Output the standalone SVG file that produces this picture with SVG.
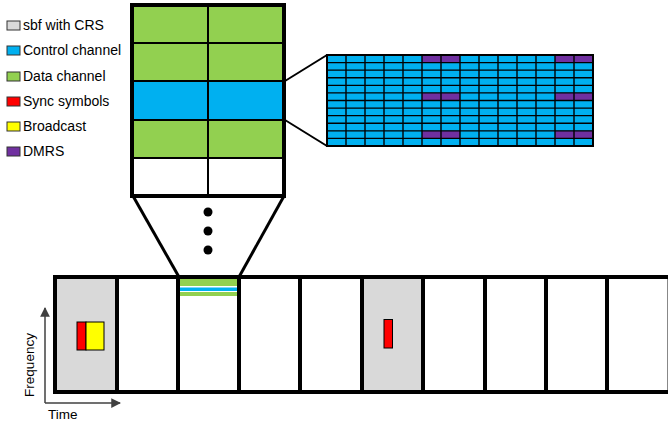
<svg xmlns="http://www.w3.org/2000/svg" width="669" height="427" viewBox="0 0 669 427">
<style>
.lbl{font-family:"Liberation Sans",Arial,sans-serif;font-size:14px;fill:#000}
.ax{font-family:"Liberation Sans",Arial,sans-serif;font-size:13.5px;fill:#000}
.sw{stroke:#333;stroke-width:1}
.g{fill:#92D050}.b{fill:#00B0F0}.r{fill:#FF0000}.y{fill:#FFFF00}.p{fill:#7030A0}.gr{fill:#D9D9D9}
.thin{stroke:#000;stroke-width:2;fill:none}
.thick{stroke:#000;stroke-width:4;fill:none}
.grid{stroke:#000;stroke-width:1.4;fill:none}
.conn{stroke:#000;stroke-width:2;fill:none}
</style>
<defs>
<marker id="ah" viewBox="0 0 10 10" refX="9" refY="5" markerWidth="6.5" markerHeight="6.5" orient="auto" markerUnits="strokeWidth">
<path d="M0,0 L10,5 L0,10 z" fill="#404040"/>
</marker>
</defs>
<rect width="669" height="427" fill="#fff"/>

<g id="legend">
<rect class="sw gr" x="7" y="21" width="13" height="9"/><text class="lbl" x="23" y="30">sbf with CRS</text>
<rect class="sw b" x="7" y="46" width="13" height="9"/><text class="lbl" x="23" y="55">Control channel</text>
<rect class="sw g" x="7" y="72" width="13" height="9"/><text class="lbl" x="23" y="81">Data channel</text>
<rect class="sw r" x="7" y="97" width="13" height="9"/><text class="lbl" x="23" y="106">Sync symbols</text>
<rect class="sw y" x="7" y="122" width="13" height="9"/><text class="lbl" x="23" y="131">Broadcast</text>
<rect class="sw p" x="7" y="147" width="13" height="9"/><text class="lbl" x="23" y="156">DMRS</text>
</g>

<g id="subframe-detail">
<rect class="g" x="132" y="5" width="152" height="38"/>
<rect class="g" x="132" y="43" width="152" height="38"/>
<rect class="b" x="132" y="81" width="152" height="39"/>
<rect class="g" x="132" y="120" width="152" height="38"/>
<rect fill="#fff" x="132" y="158" width="152" height="38"/>
<line class="thin" x1="132" y1="43" x2="284" y2="43"/>
<line class="thin" x1="132" y1="81" x2="284" y2="81"/>
<line class="thin" x1="132" y1="120" x2="284" y2="120"/>
<line class="thin" x1="132" y1="158" x2="284" y2="158"/>
<line class="thin" x1="208" y1="5" x2="208" y2="196"/>
<rect class="thick" x="132" y="5" width="152" height="191"/>
</g>

<g id="dots">
<circle cx="208" cy="212" r="4.5" fill="#000"/>
<circle cx="208" cy="231" r="4.5" fill="#000"/>
<circle cx="208" cy="250" r="4.5" fill="#000"/>
</g>

<g id="rb-grid">
<rect class="b" x="327" y="55" width="266" height="91"/>
<rect class="p" x="422" y="55" width="38" height="7.58"/>
<rect class="p" x="422" y="92.9" width="38" height="7.58"/>
<rect class="p" x="422" y="130.8" width="38" height="7.58"/>
<rect class="p" x="555" y="55" width="38" height="7.58"/>
<rect class="p" x="555" y="92.9" width="38" height="7.58"/>
<rect class="p" x="555" y="130.8" width="38" height="7.58"/>
<path class="grid" d="M346,55V146M365,55V146M384,55V146M403,55V146M422,55V146M441,55V146M460,55V146M479,55V146M498,55V146M517,55V146M536,55V146M555,55V146M574,55V146
M327,62.58H593M327,70.17H593M327,77.75H593M327,85.33H593M327,92.92H593M327,100.5H593M327,108.08H593M327,115.67H593M327,123.25H593M327,130.83H593M327,138.42H593"/>
<rect x="327" y="55" width="266" height="91" fill="none" stroke="#000" stroke-width="2"/>
</g>

<g id="time-strip">
<rect class="gr" x="55" y="277" width="62" height="115"/>
<rect class="gr" x="362" y="277" width="61" height="115"/>
<rect class="g" x="178" y="279" width="61" height="7"/>
<rect class="b" x="178" y="287.5" width="61" height="3.5"/>
<rect class="g" x="178" y="292" width="61" height="4"/>
<line x1="667.5" y1="277" x2="667.5" y2="392" stroke="#888" stroke-width="1"/>
<path class="thick" d="M668,277H55V392H668"/>
<path class="thick" d="M117,277V392M178,277V392M239,277V392M300,277V392M362,277V392M423,277V392M485,277V392M546,277V392M607,277V392"/>
</g>

<g id="sync-broadcast-1">
<rect class="r" x="77" y="322" width="9" height="28" stroke="#000" stroke-width="1"/>
<rect class="y" x="86" y="322" width="18" height="28" stroke="#000" stroke-width="1"/>
</g>
<g id="sync-2">
<rect class="r" x="384" y="319.5" width="8.5" height="28.5" stroke="#000" stroke-width="1"/>
</g>

<g id="connectors">
<line class="conn" x1="285" y1="81" x2="327" y2="55"/>
<line class="conn" x1="285" y1="120" x2="327" y2="146"/>
<line class="thick" x1="133" y1="196" x2="179" y2="277" style="stroke-width:3"/>
<line class="thick" x1="284" y1="196" x2="239" y2="277" style="stroke-width:3"/>
</g>

<g id="axes">
<path d="M45,403V308" stroke="#404040" stroke-width="1.5" fill="none" marker-end="url(#ah)"/>
<path d="M45,403H120" stroke="#404040" stroke-width="1.5" fill="none" marker-end="url(#ah)"/>
<text class="ax" transform="translate(34,365) rotate(-90)" text-anchor="middle">Frequency</text>
<text class="ax" x="48" y="419">Time</text>
</g>
</svg>
